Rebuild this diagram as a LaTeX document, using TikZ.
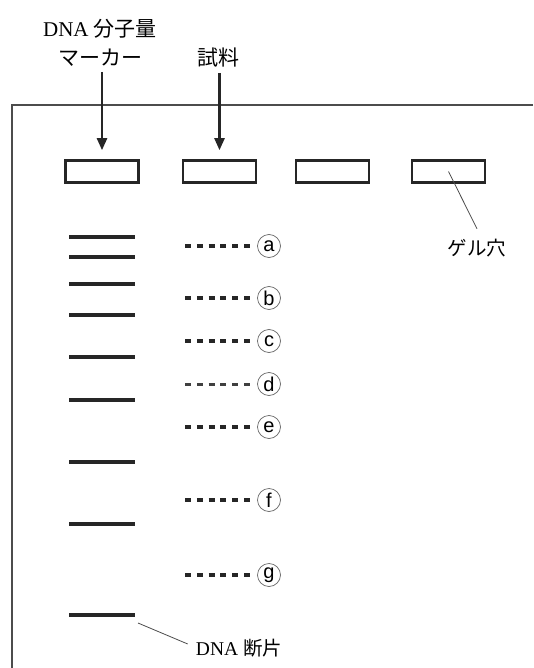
\documentclass[tikz,border=0pt]{standalone}
\usepackage{fontspec}
\setmainfont{Liberation Serif}
\newfontfamily\jpfont{Noto Sans CJK JP}
\newfontfamily\lettersf{Liberation Sans}
\usetikzlibrary{arrows.meta}

\begin{document}
\begin{tikzpicture}[x=1pt,y=-1pt,
  frameline/.style={draw=black!70, line width=1.2pt},
  well/.style={draw=black!85, line width=2.6pt, fill=white, inner sep=0pt,
    minimum width=73pt, minimum height=22pt},
  band/.style={draw=black!85, line width=3.2pt},
  dotrow/.style={draw=black!85, line width=4pt, dash pattern=on 6pt off 5.8pt},
  thindots/.style={draw=black!75, line width=3pt, dash pattern=on 6pt off 5.8pt},
  tag/.style={circle, draw=black!60, line width=0.7pt, minimum size=23pt,
    inner sep=0pt, font=\lettersf\fontsize{20}{20}\selectfont},
  lbl/.style={inner sep=0pt, font=\fontsize{21}{23}\selectfont},
  smalllbl/.style={inner sep=0pt, font=\fontsize{19.5}{21}\selectfont},
  loadarrow/.style={draw=black!85, line width=2.4pt,
    -{Triangle[length=12pt,width=10pt]}},
  leader/.style={draw=black!70, line width=0.8pt}]

\useasboundingbox (0,0) rectangle (533,668);

% gel outline (open towards the right and bottom)
\draw[frameline] (533,105) -- (12,105) -- (12,668);

% labels above the gel
\node[lbl] (mk1) at (100,29) {DNA {\jpfont 分子量}};
\node[lbl] (mk2) at (100,58) {\jpfont マーカー};
\node[lbl] (smp) at (218,58) {\jpfont 試料};

% wells
\node[well] (w1) at (102,171.5) {};
\node[well] (w2) at (219.5,171.5) {};
\node[well] (w3) at (332.5,171.5) {};
\node[well] (w4) at (448.5,171.5) {};

% loading arrows
\draw[loadarrow, shorten <=5pt, shorten >=9pt] (mk2.south -| w1.north) -- (w1.north);
\draw[loadarrow, shorten <=5pt, shorten >=9pt] (smp.south -| w2.north) -- (w2.north);

% well label
\node[smalllbl] (holelbl) at (477,248) {\jpfont ゲル穴};
\draw[leader] (w4.center) -- ([yshift=10pt]holelbl.north);

% size-marker ladder
\foreach \y [count=\i] in {237,257,284,315,357,400,462,524,615}
  \draw[band] (69,\y) coordinate (b\i s) -- (135,\y) coordinate (b\i e);

% sample bands with their tags
\foreach \y/\t in {246/a,298/b,341/c,427/e,500/f,575/g} {
  \node[tag] (t\t) at (269,\y) {\t};
  \draw[dotrow] (185,\y) -- ([xshift=-7pt]t\t.west);
}
\node[tag] (td) at (269,384) {d};
\draw[thindots] (185,384) -- ([xshift=-7pt]td.west);

% fragment label
\node[smalllbl] (fraglbl) at (239,648) {DNA {\jpfont 断片}};
\draw[leader] ([xshift=3pt,yshift=-8pt]b9e) -- ([xshift=-8pt,yshift=4pt]fraglbl.west);

\end{tikzpicture}
\end{document}
